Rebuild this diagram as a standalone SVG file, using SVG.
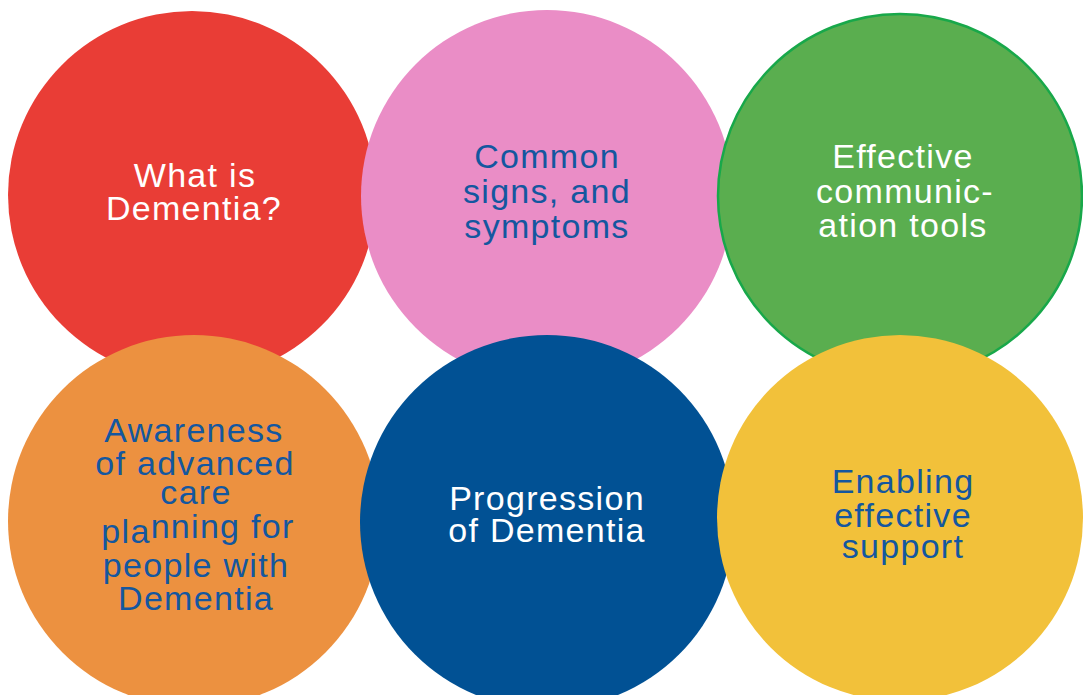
<svg xmlns="http://www.w3.org/2000/svg" width="1083" height="695" viewBox="0 0 1083 695">
<style>
.t{font-family:"Liberation Sans",Arial,sans-serif;font-size:34px;text-anchor:middle;letter-spacing:1.3px}
.w{fill:#ffffff}
.b{fill:#14579f}
</style>
<rect width="1083" height="695" fill="#ffffff"/>
<g id="node-what-is-dementia">
<circle cx="192" cy="195" r="184" fill="#e93d36"/>
<text class="t w" x="195" y="187">What is</text>
<text class="t w" x="194" y="220">Dementia?</text>
</g>
<g id="node-common-signs">
<circle cx="547" cy="196" r="186" fill="#ea8dc6"/>
<text class="t b" x="547" y="168">Common</text>
<text class="t b" x="547" y="203">signs, and</text>
<text class="t b" x="547" y="238">symptoms</text>
</g>
<g id="node-communication">
<circle cx="900" cy="196" r="182" fill="#5aae4f" stroke="#18a84a" stroke-width="2.5"/>
<text class="t w" x="903" y="168">Effective</text>
<text class="t w" x="905" y="203">communic-</text>
<text class="t w" x="903" y="237">ation tools</text>
</g>
<g id="node-awareness">
<circle cx="194" cy="521" r="186" fill="#ec9140"/>
<text class="t b" x="194" y="442">Awareness</text>
<text class="t b" x="195" y="475">of advanced</text>
<text class="t b" x="196" y="504">care</text>
<text class="t b" x="198" y="543">pla<tspan dy="-5">nning for</tspan></text>
<text class="t b" x="196" y="577">people with</text>
<text class="t b" x="196" y="610">Dementia</text>
</g>
<g id="node-progression">
<circle cx="547" cy="522" r="187" fill="#015194"/>
<text class="t w" x="547" y="510">Progression</text>
<text class="t w" x="547" y="542">of Dementia</text>
</g>
<g id="node-enabling">
<circle cx="900" cy="518" r="183" fill="#f2c13a"/>
<text class="t b" x="903" y="493">Enabling</text>
<text class="t b" x="903" y="527">effective</text>
<text class="t b" x="903" y="558">support</text>
</g>
<g id="connectors"/>
</svg>
